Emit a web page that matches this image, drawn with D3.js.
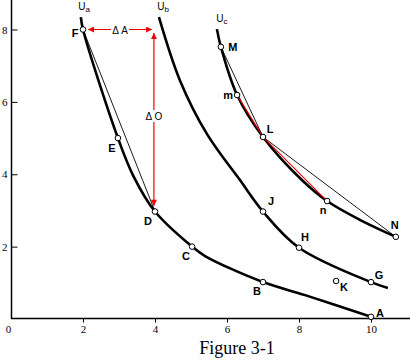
<!DOCTYPE html>
<html><head><meta charset="utf-8">
<script src="https://cdn.jsdelivr.net/npm/d3@7"></script>
<style>body{margin:0;background:#fff}svg{display:block}</style>
</head><body>
<script>
// ---- data ----
const xTicks = [0, 2, 4, 6, 8, 10];
const yTicks = [2, 4, 6, 8];
const uaCurve = [[1.94, 8.34], [2, 8], [2.97, 5], [3.4, 3.95], [4, 2.97], [5.03, 2], [5.39, 1.74], [7, 1.02], [8.17, 0.66], [10, 0.06]];
const ubCurve = [[4.11, 8.34], [4.69, 6.6], [5.45, 5.1], [6.36, 3.84], [7, 2.97], [8, 1.97], [10, 1.02], [10.47, 0.86]];
const ucCurve = [[5.72, 8.01], [5.83, 7.52], [6.28, 6.19], [7, 5.03], [8.08, 3.84], [8.78, 3.26], [9.69, 2.74], [10.69, 2.27]];
const pointNames = ["F", "E", "D", "C", "B", "A", "J", "H", "G", "K", "M", "m", "L", "n", "N"];
const pointX = [2, 2.97, 4, 5.03, 7, 10, 7, 8, 10, 9.03, 5.83, 6.28, 7, 8.78, 10.69];
const pointY = [8, 5, 2.97, 2, 1.02, 0.06, 2.97, 1.97, 1.02, 1.05, 7.52, 6.19, 5.03, 3.26, 2.27];
const labelDx = [-8, -6, -7, -6, -6, 9, 8, 6, 8, 8, 12, -9, 7, -4, -1];
const labelDy = [3, 10, 9, 9, 9, -4, -11, -11, -7, 6, 0, 0, -8, 9, -12];
const chordFD = ["F", "D"];
const chordML = ["M", "L"];
const chordLN = ["L", "N"];
const redPath = ["m", "L", "n"];
const curveNames = ["a", "b", "c"];
const curveLabelPos = [[1.87, 8.55], [4.06, 8.55], [5.7, 8.2]];
const arrowH = [[2.14, 8], [3.92, 8]];
const arrowV = [[3.97, 7.9], [3.97, 3.13]];

const W = 410, H = 361;
const svg = d3.select("body").append("svg").attr("width", W).attr("height", H);
const x = d3.scaleLinear().domain([0, 10]).range([11, 371]);
const y = d3.scaleLinear().domain([0, 8]).range([319, 29.5]);

// axes
const xAxis = d3.axisBottom(x).tickValues(xTicks).tickSize(4).tickPadding(3).tickFormat(d3.format("d"));
const gx = svg.append("g").attr("transform", "translate(0,318.5)").call(xAxis);
gx.select(".domain").remove();
gx.append("line").attr("x1", 11).attr("x2", 410).attr("stroke", "#000").attr("stroke-width", 1.5);
gx.selectAll(".tick").filter(d => d === 0).select("line").remove();
gx.selectAll(".tick").filter(d => d === 0).select("text").attr("dx", -3);
gx.selectAll("text").attr("font-family", "Liberation Serif").attr("font-size", 11).attr("fill", "#000");

const yAxis = d3.axisLeft(y).tickValues(yTicks).tickSizeInner(-6).tickSizeOuter(0).tickPadding(4);
const gy = svg.append("g").attr("transform", "translate(11.5,0)").call(yAxis);
gy.select(".domain").remove();
gy.append("line").attr("y1", 0).attr("y2", 319).attr("stroke", "#000").attr("stroke-width", 1.5);
gy.selectAll("text").attr("font-family", "Liberation Serif").attr("font-size", 11).attr("fill", "#000");

// curves
const line = d3.line().x(d => x(d[0])).y(d => y(d[1])).curve(d3.curveCatmullRom.alpha(0.5));
[uaCurve, ubCurve, ucCurve].forEach(c => {
  svg.append("path").attr("d", line(c)).attr("fill", "none").attr("stroke", "#000").attr("stroke-width", 2.6);
});

const pt = name => { const i = pointNames.indexOf(name); return [pointX[i], pointY[i]]; };
const straight = d3.line().x(d => x(d[0])).y(d => y(d[1]));
[chordFD, chordML, chordLN].forEach(c => {
  svg.append("path").attr("d", straight(c.map(pt))).attr("fill", "none").attr("stroke", "#000").attr("stroke-width", 0.9);
});
svg.append("path").attr("d", straight(redPath.map(pt))).attr("fill", "none").attr("stroke", "#e00").attr("stroke-width", 1.1);

// arrows
const defs = svg.append("defs");
defs.append("marker").attr("id", "ah").attr("viewBox", "0 0 10 10").attr("refX", 10).attr("refY", 5)
  .attr("markerWidth", 7).attr("markerHeight", 6).attr("markerUnits", "userSpaceOnUse").attr("orient", "auto-start-reverse")
  .append("path").attr("d", "M0,0L10,5L0,10Z").attr("fill", "#e00");
[arrowH, arrowV].forEach(a => {
  svg.append("path").attr("d", straight(a)).attr("stroke", "#e00").attr("stroke-width", 1.2).attr("fill", "none")
    .attr("marker-start", "url(#ah)").attr("marker-end", "url(#ah)");
});
function boxText(cx, cy, t) {
  svg.append("rect").attr("x", cx - 9).attr("y", cy - 6).attr("width", 18).attr("height", 12).attr("fill", "#fff");
  svg.append("text").attr("x", cx).attr("y", cy + 4).attr("text-anchor", "middle")
    .attr("font-family", "Liberation Sans").attr("font-size", 10).text(t);
}
boxText((x(arrowH[0][0]) + x(arrowH[1][0])) / 2, y(8), "\u0394 A");
boxText(x(arrowV[0][0]), 116, "\u0394 O");

// curve labels
curveNames.forEach((n, i) => {
  const t = svg.append("text").attr("x", x(curveLabelPos[i][0])).attr("y", y(curveLabelPos[i][1]))
    .attr("font-family", "Liberation Sans").attr("font-size", 10);
  t.append("tspan").text("U");
  t.append("tspan").attr("font-size", 8).attr("dy", 2).text(n);
});

// points & labels
pointNames.forEach((n, i) => {
  const cx = x(pointX[i]), cy = y(pointY[i]);
  svg.append("circle").attr("cx", cx).attr("cy", cy).attr("r", 2.8).attr("fill", "#fff").attr("stroke", "#000").attr("stroke-width", 1);
  svg.append("text").attr("x", cx + labelDx[i]).attr("y", cy + labelDy[i] + 4).attr("text-anchor", "middle")
    .attr("font-family", "Liberation Sans").attr("font-weight", "bold").attr("font-size", 11).text(n);
});

// title
svg.append("text").attr("x", 237).attr("y", 354).attr("text-anchor", "middle")
  .attr("font-family", "Liberation Serif").attr("font-size", 18).text("Figure 3-1");
</script>
</body></html>
